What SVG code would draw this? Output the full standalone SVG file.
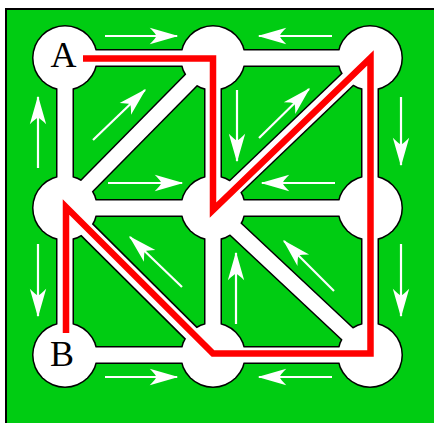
<svg xmlns="http://www.w3.org/2000/svg" width="434" height="423" viewBox="0 0 434 423">
<defs>
<style>
.cas{stroke:#000;stroke-width:18;fill:none}
.road{stroke:#fff;stroke-width:15;fill:none}
.ccas{fill:#000}
.node{fill:#fff}
.lbl{font-family:"Liberation Serif","Times New Roman",serif;font-size:36px;fill:#000;text-anchor:middle}
.arr{stroke:#fff;stroke-width:2.2;fill:none;marker-end:url(#ah)}
.path{stroke:#ff0000;stroke-width:6.5;fill:none;stroke-linejoin:miter;stroke-miterlimit:10}
</style>
<marker id="ah" markerUnits="userSpaceOnUse" orient="auto" refX="0" refY="0" markerWidth="30" markerHeight="30" viewBox="-20 -10 22 20" overflow="visible">
<path d="M1,0 L-20,-6 Q-16,-2 -15,0 Q-16,2 -20,6 Z" fill="#fff"/>
</marker>
</defs>
<rect x="0" y="0" width="434" height="423" fill="#fff"/>
<rect x="6" y="9" width="440" height="430" fill="#00cc12" stroke="#000" stroke-width="2"/>
<g id="outline">
<g class="cas">
<line x1="65" y1="58" x2="213" y2="58"/><line x1="213" y1="58" x2="370" y2="58"/>
<line x1="65" y1="208" x2="213" y2="208"/><line x1="213" y1="208" x2="370" y2="208"/>
<line x1="65" y1="355" x2="213" y2="355"/><line x1="213" y1="355" x2="370" y2="355"/>
<line x1="65" y1="58" x2="65" y2="208"/><line x1="65" y1="208" x2="65" y2="355"/>
<line x1="213" y1="58" x2="213" y2="208"/><line x1="213" y1="208" x2="213" y2="355"/>
<line x1="370" y1="58" x2="370" y2="208"/><line x1="370" y1="208" x2="370" y2="355"/>
<line x1="65" y1="208" x2="213" y2="58"/><line x1="213" y1="208" x2="370" y2="58"/>
<line x1="65" y1="208" x2="213" y2="355"/><line x1="213" y1="208" x2="370" y2="355"/>
</g>
<g class="ccas">
<circle cx="65" cy="58" r="33"/><circle cx="213" cy="58" r="33"/><circle cx="370" cy="58" r="33"/>
<circle cx="65" cy="208" r="33"/><circle cx="213" cy="208" r="33"/><circle cx="370" cy="208" r="33"/>
<circle cx="65" cy="355" r="33"/><circle cx="213" cy="355" r="33"/><circle cx="370" cy="355" r="33"/>
</g>
</g>
<g id="connectors" class="road">
<line x1="65" y1="58" x2="213" y2="58"/><line x1="213" y1="58" x2="370" y2="58"/>
<line x1="65" y1="208" x2="213" y2="208"/><line x1="213" y1="208" x2="370" y2="208"/>
<line x1="65" y1="355" x2="213" y2="355"/><line x1="213" y1="355" x2="370" y2="355"/>
<line x1="65" y1="58" x2="65" y2="208"/><line x1="65" y1="208" x2="65" y2="355"/>
<line x1="213" y1="58" x2="213" y2="208"/><line x1="213" y1="208" x2="213" y2="355"/>
<line x1="370" y1="58" x2="370" y2="208"/><line x1="370" y1="208" x2="370" y2="355"/>
<line x1="65" y1="208" x2="213" y2="58"/><line x1="213" y1="208" x2="370" y2="58"/>
<line x1="65" y1="208" x2="213" y2="355"/><line x1="213" y1="208" x2="370" y2="355"/>
</g>
<g id="node-A"><circle class="node" cx="65" cy="58" r="31.5"/><text class="lbl" x="63.5" y="67">A</text></g>
<g id="node-top-mid"><circle class="node" cx="213" cy="58" r="31.5"/></g>
<g id="node-top-right"><circle class="node" cx="370" cy="58" r="31.5"/></g>
<g id="node-mid-left"><circle class="node" cx="65" cy="208" r="31.5"/></g>
<g id="node-center"><circle class="node" cx="213" cy="208" r="31.5"/></g>
<g id="node-mid-right"><circle class="node" cx="370" cy="208" r="31.5"/></g>
<g id="node-B"><circle class="node" cx="65" cy="355" r="31.5"/><text class="lbl" x="62" y="366">B</text></g>
<g id="node-bottom-mid"><circle class="node" cx="213" cy="355" r="31.5"/></g>
<g id="node-bottom-right"><circle class="node" cx="370" cy="355" r="31.5"/></g>
<g id="route">
<path class="path" d="M83,58.5 L213,58.5 L213,210 L370.5,58 L370.5,353.5 L213,353.5 L66,207 L66,333"/>
</g>
<g id="arrows">
<line class="arr" x1="105" y1="36" x2="177" y2="36"/>
<line class="arr" x1="332" y1="36" x2="259" y2="36"/>
<line class="arr" x1="38" y1="168" x2="38" y2="97"/>
<line class="arr" x1="38" y1="244" x2="38" y2="316"/>
<line class="arr" x1="401" y1="97" x2="401" y2="165"/>
<line class="arr" x1="401" y1="244" x2="401" y2="316"/>
<line class="arr" x1="105" y1="377" x2="177" y2="377"/>
<line class="arr" x1="332" y1="377" x2="259" y2="377"/>
<line class="arr" x1="93" y1="140" x2="145" y2="90"/>
<line class="arr" x1="108" y1="183" x2="182" y2="183"/>
<line class="arr" x1="237" y1="90" x2="237" y2="161"/>
<line class="arr" x1="259" y1="138" x2="309" y2="89"/>
<line class="arr" x1="335" y1="183" x2="262" y2="183"/>
<line class="arr" x1="182" y1="287" x2="130" y2="237"/>
<line class="arr" x1="236" y1="324" x2="236" y2="253"/>
<line class="arr" x1="334" y1="291" x2="284" y2="241"/>
</g>
</svg>
